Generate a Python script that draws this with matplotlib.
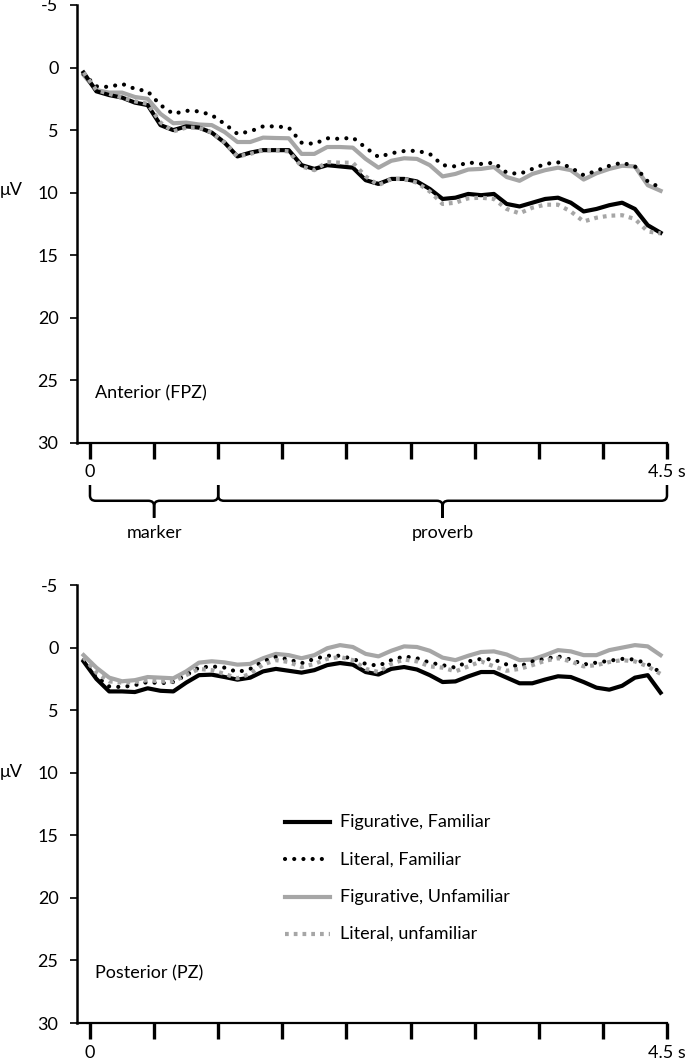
import matplotlib
matplotlib.use("Agg")
import matplotlib.pyplot as plt
import matplotlib.transforms as mtransforms
from matplotlib.path import Path
from matplotlib.patches import PathPatch
from matplotlib.lines import Line2D

plt.rcParams['font.family'] = ['Lato', 'DejaVu Sans']
FS = 13

# time of each sample (s)
t = [-0.05, 0.05, 0.15, 0.25, 0.35, 0.45, 0.55, 0.65, 0.75, 0.85,
     0.95, 1.05, 1.15, 1.25, 1.35, 1.45, 1.55, 1.65, 1.75, 1.85,
     1.95, 2.05, 2.15, 2.25, 2.35, 2.45, 2.55, 2.65, 2.75, 2.85,
     2.95, 3.05, 3.15, 3.25, 3.35, 3.45, 3.55, 3.65, 3.75, 3.85,
     3.95, 4.05, 4.15, 4.25, 4.35, 4.45]

# anterior (FPZ), microvolts
fpz_fig_fam = [0.4, 1.9, 2.2, 2.4, 2.8, 3.0, 4.6, 5.0, 4.7, 4.8,
               5.2, 6.0, 7.1, 6.8, 6.6, 6.6, 6.6, 7.8, 8.1, 7.8,
               7.9, 8.0, 9.0, 9.3, 8.9, 8.9, 9.1, 9.7, 10.5, 10.4,
               10.1, 10.2, 10.1, 10.9, 11.1, 10.8, 10.5, 10.4, 10.8, 11.5,
               11.3, 11.0, 10.8, 11.3, 12.6, 13.2]
fpz_lit_fam = [0.5, 1.5, 1.55, 1.3, 1.7, 1.9, 3.0, 3.7, 3.45, 3.5,
               3.8, 4.5, 5.3, 5.1, 4.7, 4.7, 4.8, 6.0, 6.1, 5.65,
               5.7, 5.6, 6.4, 7.15, 6.85, 6.67, 6.65, 6.9, 7.8, 7.9,
               7.58, 7.7, 7.6, 8.4, 8.5, 8.1, 7.7, 7.57, 8.0, 8.6,
               8.25, 7.85, 7.6, 7.9, 9.1, 9.6]
fpz_fig_unf = [0.6, 1.8, 2.0, 2.0, 2.35, 2.5, 3.7, 4.45, 4.4, 4.55,
               4.6, 5.15, 5.95, 5.95, 5.6, 5.63, 5.65, 6.9, 6.9, 6.35,
               6.35, 6.4, 7.3, 8.0, 7.45, 7.25, 7.3, 7.8, 8.7, 8.5,
               8.15, 8.1, 7.95, 8.75, 9.05, 8.5, 8.2, 8.0, 8.2, 8.95,
               8.45, 8.1, 7.85, 7.9, 9.4, 9.85]
fpz_lit_unf = [0.4, 1.8, 2.1, 2.4, 2.7, 2.9, 4.4, 5.1, 4.8, 4.8,
               5.2, 6.0, 7.1, 6.9, 6.6, 6.6, 6.7, 7.9, 8.2, 7.55,
               7.6, 7.6, 8.7, 9.4, 8.9, 8.9, 9.2, 9.9, 10.9, 10.8,
               10.45, 10.4, 10.5, 11.3, 11.65, 11.2, 10.96, 10.96, 11.5, 12.3,
               12.0, 11.84, 11.8, 12.1, 13.1, 13.25]

# posterior (PZ), microvolts
pz_fig_fam = [1.1, 2.5, 3.5, 3.5, 3.55, 3.25, 3.45, 3.5, 2.8, 2.2,
              2.16, 2.35, 2.56, 2.4, 1.9, 1.7, 1.85, 2.0, 1.8, 1.4,
              1.23, 1.36, 1.95, 2.15, 1.7, 1.55, 1.75, 2.2, 2.75, 2.7,
              2.3, 1.95, 1.95, 2.4, 2.85, 2.85, 2.55, 2.29, 2.35, 2.75,
              3.2, 3.36, 3.05, 2.4, 2.2, 3.6]
pz_lit_fam = [1.0, 2.3, 3.1, 3.15, 3.0, 2.75, 2.85, 2.75, 2.2, 1.6,
              1.5, 1.6, 1.95, 1.7, 1.1, 0.75, 0.95, 1.25, 0.9, 0.65,
              0.65, 0.9, 1.3, 1.45, 1.0, 0.7, 0.85, 1.2, 1.4, 1.6,
              1.1, 0.9, 0.95, 1.35, 1.5, 1.1, 0.9, 0.7, 0.95, 1.35,
              1.2, 1.05, 0.9, 0.95, 1.3, 2.0]
pz_fig_unf = [0.6, 1.6, 2.4, 2.69, 2.6, 2.35, 2.4, 2.45, 1.9, 1.2,
              1.09, 1.18, 1.36, 1.3, 0.85, 0.5, 0.6, 0.85, 0.6, 0.05,
              -0.2, -0.05, 0.5, 0.7, 0.25, -0.1, -0.05, 0.25, 0.8, 1.0,
              0.65, 0.35, 0.3, 0.55, 1.0, 0.95, 0.6, 0.2, 0.3, 0.6,
              0.6, 0.2, 0.0, -0.2, -0.1, 0.6]
pz_lit_unf = [0.8, 2.0, 2.7, 2.8, 2.75, 2.6, 2.7, 2.7, 2.2, 1.7,
              1.8, 2.1, 2.45, 2.1, 1.35, 1.0, 1.15, 1.55, 1.3, 0.9,
              0.75, 1.0, 1.7, 1.95, 1.3, 0.95, 1.1, 1.5, 1.6, 1.9,
              1.5, 1.1, 1.5, 1.85, 1.7, 1.4, 1.05, 0.85, 1.1, 1.5,
              1.4, 1.15, 1.0, 1.1, 1.5, 2.1]

labels = ['Figurative, Familiar', 'Literal, Familiar',
          'Figurative, Unfamiliar', 'Literal, unfamiliar']
yticks = [-5, 0, 5, 10, 15, 20, 25, 30]
xticks = [0, 0.5, 1.0, 1.5, 2.0, 2.5, 3.0, 3.5, 4.0, 4.5]
xticklabels = ['0', '', '', '', '', '', '', '', '', '4.5 s']

gray = '#a6a6a6'
styles = [
    dict(color='black', lw=3, ls='-'),
    dict(color='black', lw=3, ls=(0, (0.01, 2.2)), dash_capstyle='round'),
    dict(color=gray, lw=3, ls='-'),
    dict(color=gray, lw=3, ls=(0, (0.9, 1.2)), dash_capstyle='butt'),
]
draw_order = [2, 0, 1, 3]

fig = plt.figure(figsize=(6.85, 10.62), dpi=100)
ax1 = fig.add_axes([0.1117, 0.5829, 0.862, 0.4124])
ax2 = fig.add_axes([0.1117, 0.0367, 0.862, 0.4124])


def setup(ax, name):
    ax.set_xlim(-0.105, 4.5)
    ax.set_ylim(30, -5)
    ax.set_yticks(yticks)
    ax.set_yticklabels([str(v) for v in yticks])
    ax.set_xticks(xticks)
    ax.set_xticklabels(xticklabels)
    for s in ['top', 'right']:
        ax.spines[s].set_visible(False)
    ax.spines['left'].set_linewidth(1.8)
    ax.spines['bottom'].set_linewidth(1.6)
    ax.tick_params(axis='x', direction='out', length=11.5, width=2.4, pad=4, labelsize=FS)
    ax.tick_params(axis='y', direction='out', length=5, width=1.2, pad=8, labelsize=FS)
    ax.text(0.04, 26, name, ha='left', va='center', fontsize=FS)


for ax, series, name in [(ax1, [fpz_fig_fam, fpz_lit_fam, fpz_fig_unf, fpz_lit_unf], 'Anterior (FPZ)'),
                         (ax2, [pz_fig_fam, pz_lit_fam, pz_fig_unf, pz_lit_unf], 'Posterior (PZ)')]:
    setup(ax, name)
    for i in draw_order:
        ax.plot(t, series[i], **styles[i])

fig.text(0.0, 1 - 190 / 1062, 'μV', ha='left', va='center', fontsize=FS)
fig.text(0.0, 1 - 772 / 1062, 'μV', ha='left', va='center', fontsize=FS)

# legend drawn by hand inside the lower panel
leg_y = [0.459, 0.374, 0.288, 0.203]
for i in range(4):
    ax2.add_line(Line2D([0.353, 0.429], [leg_y[i], leg_y[i]], transform=ax2.transAxes, **styles[i]))
    ax2.text(0.446, leg_y[i], labels[i], transform=ax2.transAxes, ha='left', va='center', fontsize=FS)


# curly braces under the upper panel
def brace(ax, xa, xb, xm):
    tr = mtransforms.blended_transform_factory(ax.transData, ax.transAxes)
    ytop, yline, ytip = -0.096, -0.132, -0.171
    e, dx = 0.012, 0.045
    verts, codes = [], []
    for xe, sgn in [(xa, 1), (xb, -1)]:
        verts += [(xe, ytop), (xe, yline + e), (xe, yline), (xe + sgn * dx, yline),
                  (xm - sgn * dx, yline), (xm, yline), (xm, yline - e), (xm, ytip)]
        codes += [Path.MOVETO, Path.LINETO, Path.CURVE3, Path.CURVE3,
                  Path.LINETO, Path.CURVE3, Path.CURVE3, Path.LINETO]
    ax.add_patch(PathPatch(Path(verts, codes), fill=False, lw=1.8, color='black',
                           transform=tr, clip_on=False, capstyle='butt'))


brace(ax1, 0.0, 1.0, 0.5)
brace(ax1, 1.0, 4.5, 2.75)
tr1 = mtransforms.blended_transform_factory(ax1.transData, ax1.transAxes)
ax1.text(0.5, -0.205, 'marker', transform=tr1, ha='center', va='center', fontsize=FS)
ax1.text(2.75, -0.205, 'proverb', transform=tr1, ha='center', va='center', fontsize=FS)

fig.savefig('out.png', dpi=100)
